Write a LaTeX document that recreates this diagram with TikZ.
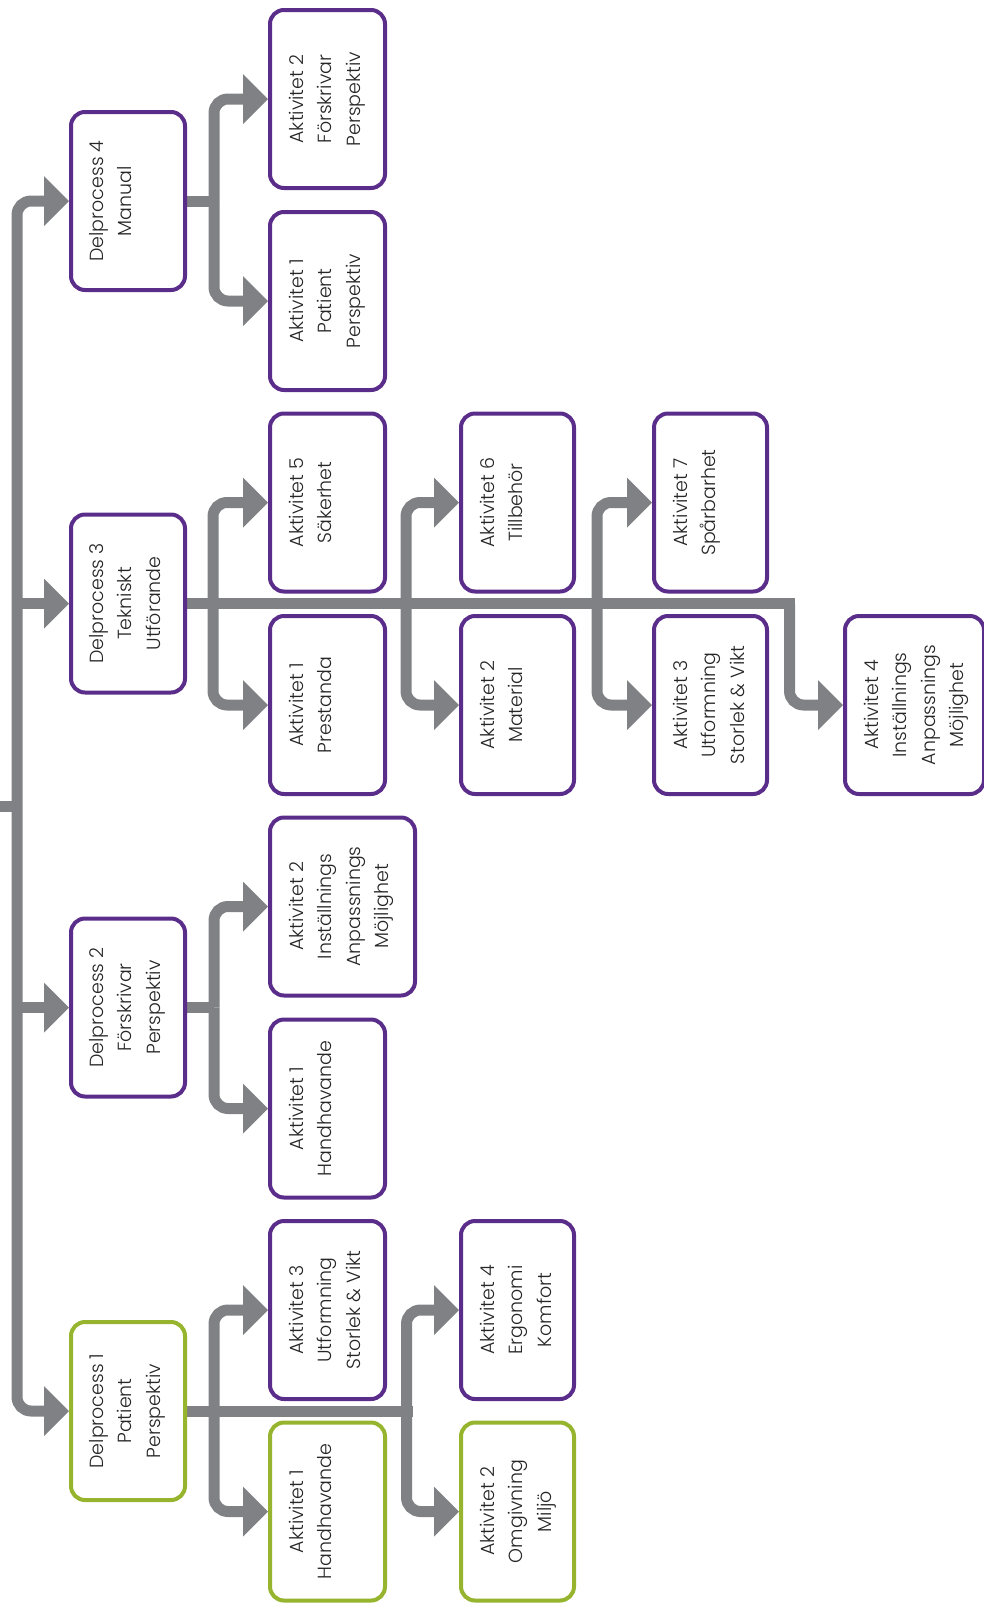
\documentclass[tikz,border=0pt]{standalone}
\usepackage{fontspec}
\setmainfont{Poppins Light}
\usetikzlibrary{arrows.meta,backgrounds}
\definecolor{cgray}{RGB}{128,129,132}
\definecolor{cpurp}{RGB}{90,45,138}
\definecolor{cgreen}{RGB}{150,180,46}
\tikzset{
 line/.style={draw=cgray, line width=11pt},
 conn/.style={line, rounded corners=14pt, -{Triangle[length=25pt,width=50pt,line width=0pt]}},
 boxbase/.style={rectangle, rounded corners=14pt, line width=4pt, fill=white, inner sep=0pt, minimum height=178pt},
 pbox/.style={boxbase, draw=cpurp},
 gbox/.style={boxbase, draw=cgreen},
 txt/.style={rotate=90, anchor=north, align=center, inner sep=0pt, font=\fontsize{19}{28.5}\selectfont, text=black!85}
}
\begin{document}
\begin{tikzpicture}[x=1pt,y=-1pt]
\useasboundingbox (0,0) rectangle (984,1604);
% Delprocess boxes
\node[pbox, minimum width=114pt] (dp4) at (128,201) {};
\node[pbox, minimum width=114pt] (dp3) at (128,603.5) {};
\node[pbox, minimum width=114pt] (dp2) at (128,1007.5) {};
\node[gbox, minimum width=114pt] (dp1) at (128,1411) {};
% column 1
\node[pbox, minimum width=115pt] (m2) at (327.5,99) {};
\node[pbox, minimum width=115pt] (m1) at (327.5,301) {};
\node[pbox, minimum width=115pt] (t5) at (327.5,502.5) {};
\node[pbox, minimum width=115pt] (t1) at (327.5,705) {};
\node[pbox, minimum width=145pt] (f2) at (342.5,906.5) {};
\node[pbox, minimum width=115pt] (f1) at (327.5,1108.5) {};
\node[pbox, minimum width=115pt] (p3) at (327.5,1310) {};
\node[gbox, minimum width=115pt] (p1) at (327.5,1511.5) {};
% column 2
\node[pbox, minimum width=113pt] (t6) at (517.5,502.5) {};
\node[pbox, minimum width=113pt] (t2) at (517.5,705) {};
\node[pbox, minimum width=113pt] (p4) at (517.5,1310) {};
\node[gbox, minimum width=113pt] (p2) at (517.5,1511.5) {};
% column 3
\node[pbox, minimum width=113pt] (t7) at (710.5,502.5) {};
\node[pbox, minimum width=113pt] (t3) at (710.5,705) {};
% column 4
\node[pbox, minimum width=139pt] (t4) at (914.5,705) {};
% texts
\node[txt] at ([xshift=20pt]dp4.west) {Delprocess 4\\Manual};
\node[txt] at ([xshift=20pt]dp3.west) {Delprocess 3\\Tekniskt\\Utförande};
\node[txt] at ([xshift=20pt]dp2.west) {Delprocess 2\\Förskrivar\\Perspektiv};
\node[txt] at ([xshift=20pt]dp1.west) {Delprocess 1\\Patient\\Perspektiv};
\node[txt] at ([xshift=21pt]m2.west) {Aktivitet 2\\Förskrivar\\Perspektiv};
\node[txt] at ([xshift=21pt]m1.west) {Aktivitet 1\\Patient\\Perspektiv};
\node[txt] at ([xshift=21pt]t5.west) {Aktivitet 5\\Säkerhet};
\node[txt] at ([xshift=21pt]t1.west) {Aktivitet 1\\Prestanda};
\node[txt] at ([xshift=21pt]f2.west) {Aktivitet 2\\Inställnings\\Anpassnings\\Möjlighet};
\node[txt] at ([xshift=21pt]f1.west) {Aktivitet 1\\Handhavande};
\node[txt] at ([xshift=21pt]p3.west) {Aktivitet 3\\Utformning\\Storlek \& Vikt};
\node[txt] at ([xshift=21pt]p1.west) {Aktivitet 1\\Handhavande};
\node[txt] at ([xshift=21pt]t6.west) {Aktivitet 6\\Tillbehör};
\node[txt] at ([xshift=21pt]t2.west) {Aktivitet 2\\Material};
\node[txt] at ([xshift=21pt]p4.west) {Aktivitet 4\\Ergonomi\\Komfort};
\node[txt] at ([xshift=21pt]p2.west) {Aktivitet 2\\Omgivning\\Miljö};
\node[txt] at ([xshift=21pt]t7.west) {Aktivitet 7\\Spårbarhet};
\node[txt] at ([xshift=21pt]t3.west) {Aktivitet 3\\Utformning\\Storlek \& Vikt};
\node[txt] at ([xshift=21pt]t4.west) {Aktivitet 4\\Inställnings\\Anpassnings\\Möjlighet};
% connectors
\begin{scope}[on background layer]
\coordinate (trk) at (17,806);
\coordinate (stub) at (0,806);
\draw[line] (stub) -- (trk);
\draw[conn] (trk) |- (dp4.west);
\draw[conn] (trk) |- (dp1.west);
\draw[conn] (trk |- dp3.west) -- (dp3.west);
\draw[conn] (trk |- dp2.west) -- (dp2.west);
% DP4
\coordinate (j4) at (214,201);
\draw[line] (dp4.east) -- (j4);
\draw[conn] (j4) |- (m2.west);
\draw[conn] (j4) |- (m1.west);
% DP3
\coordinate (e3) at (795,603.5);
\coordinate (j31) at (213,603.5);
\coordinate (j32) at (406,603.5);
\coordinate (j33) at (597,603.5);
\coordinate (j34) at (789.5,603.5);
\draw[line] (dp3.east) -- (e3);
\draw[conn] (j31) |- (t5.west);
\draw[conn] (j31) |- (t1.west);
\draw[conn] (j32) |- (t6.west);
\draw[conn] (j32) |- (t2.west);
\draw[conn] (j33) |- (t7.west);
\draw[conn] (j33) |- (t3.west);
\draw[conn] (j34) |- (t4.west);
% DP2
\coordinate (j2) at (214,1007.5);
\draw[line] (dp2.east) -- (j2);
\draw[conn] (j2) |- (f2.west);
\draw[conn] (j2) |- (f1.west);
% DP1
\coordinate (e1) at (413,1411);
\coordinate (j11) at (214,1411);
\coordinate (j12) at (406.5,1411);
\draw[line] (dp1.east) -- (e1);
\draw[conn] (j11) |- (p3.west);
\draw[conn] (j11) |- (p1.west);
\draw[conn] (j12) |- (p4.west);
\draw[conn] (j12) |- (p2.west);
\end{scope}
\end{tikzpicture}
\end{document}
